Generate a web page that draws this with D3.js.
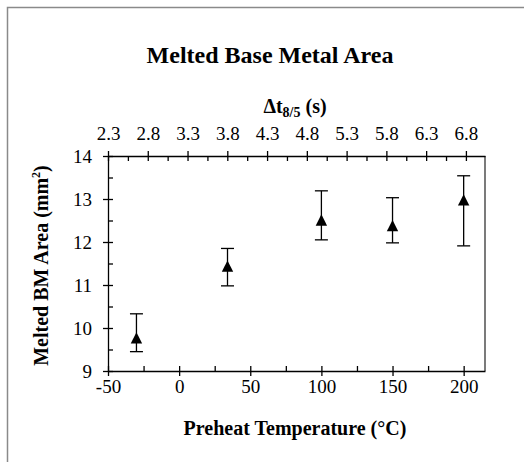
<!DOCTYPE html>
<html>
<head>
<meta charset="utf-8">
<script src="https://cdn.jsdelivr.net/npm/d3@7"></script>
<style>
  body { margin: 0; background: #fff; }
  svg text { font-family: "Liberation Serif", "Times New Roman", serif; fill: #000; }
</style>
</head>
<body>
<svg id="chart"></svg>
<script>
// preheat temperature (°C) and melted base metal area (mm²)
const temps = [-30, 34, 100, 150, 200];
const area = [9.77, 11.44, 12.51, 12.38, 12.98];
const areaHigh = [10.33, 11.85, 13.19, 13.03, 13.54];
const areaLow = [9.45, 10.98, 12.05, 11.98, 11.91];

const bottomTicks = [-50, 0, 50, 100, 150, 200];
const topTicks = [2.3, 2.8, 3.3, 3.8, 4.3, 4.8, 5.3, 5.8, 6.3, 6.8];
const yTicks = [9, 10, 11, 12, 13, 14];

var svgWidth = 524;
var svgHeight = 462;
var margin = {top: 156, right: 39, bottom: 91, left: 108};
var width = svgWidth - margin.left - margin.right;
var height = svgHeight - margin.top - margin.bottom;

var svg = d3.select("#chart")
            .attr("width", svgWidth)
            .attr("height", svgHeight);

// outer chart frame (only top/left visible in the crop)
svg.append("rect")
    .attr("x", 7.5).attr("y", 7.5)
    .attr("width", svgWidth).attr("height", svgHeight)
    .attr("fill", "none")
    .attr("stroke", "#8a8a8a")
    .attr("stroke-width", 1.5);

svg.append("text")
    .attr("x", 270).attr("y", 63)
    .attr("text-anchor", "middle")
    .attr("font-size", 24)
    .attr("font-weight", "bold")
    .text("Melted Base Metal Area");

var g = svg.append("g")
            .attr("transform", "translate(" + margin.left + "," + margin.top + ")");

var x = d3.scaleLinear().domain([-50, 215]).range([0, width]);
var xTop = d3.scaleLinear().domain([2.3, 7.04]).range([0, width]);
var y = d3.scaleLinear().domain([9, 14]).range([height, 0]);

function styleAxis(sel) {
    sel.attr("font-size", 19).attr("font-family", "Liberation Serif, serif");
    sel.selectAll("path, line").attr("stroke", "#000").attr("stroke-width", 1.3);
    sel.selectAll("text").attr("font-size", 19);
}

var plain = function(d) { return String(d); };

// right border
g.append("line")
    .attr("x1", width).attr("x2", width)
    .attr("y1", 0).attr("y2", height)
    .attr("stroke", "#222").attr("stroke-width", 1.2);

// bottom axis
g.append("g")
    .attr("transform", "translate(0," + height + ")")
    .call(d3.axisBottom(x).tickValues(bottomTicks).tickFormat(plain).tickSizeInner(5).tickSizeOuter(0).tickPadding(4))
    .call(styleAxis);
g.append("g")
    .attr("transform", "translate(0," + height + ")")
    .call(d3.axisBottom(x).tickValues(d3.range(-50, 201, 25)).tickSize(-5).tickFormat(""))
    .call(styleAxis)
    .select(".domain").remove();

// top axis
g.append("g")
    .call(d3.axisTop(xTop).tickValues(topTicks).tickFormat(d3.format(".1f")).tickSizeInner(5).tickSizeOuter(0).tickPadding(11))
    .call(styleAxis);
g.append("g")
    .call(d3.axisTop(xTop).tickValues(d3.range(0, 19).map(function(i) { return 2.3 + i * 0.25; })).tickSize(-5).tickFormat(""))
    .call(styleAxis)
    .select(".domain").remove();

// left axis
g.append("g")
    .call(d3.axisLeft(y).tickValues(yTicks).tickFormat(plain).tickSizeInner(5).tickSizeOuter(0).tickPadding(11))
    .call(styleAxis);
g.append("g")
    .call(d3.axisLeft(y).tickValues(d3.range(9, 14.01, 0.5)).tickSize(-5).tickFormat(""))
    .call(styleAxis)
    .select(".domain").remove();

// axis titles
svg.append("text")
    .attr("x", 295).attr("y", 435)
    .attr("text-anchor", "middle")
    .attr("font-size", 20)
    .attr("font-weight", "bold")
    .text("Preheat Temperature (°C)");

var topTitle = svg.append("text")
    .attr("x", 295).attr("y", 113)
    .attr("text-anchor", "middle")
    .attr("font-size", 20)
    .attr("font-weight", "bold");
topTitle.append("tspan").text("Δt");
topTitle.append("tspan").attr("font-size", 14).attr("dy", 4).text("8/5");
topTitle.append("tspan").attr("dy", -4).text(" (s)");

var yTitle = svg.append("text")
    .attr("transform", "translate(48," + (margin.top + height / 2 + 2) + ") rotate(-90)")
    .attr("text-anchor", "middle")
    .attr("font-size", 20)
    .attr("font-weight", "bold");
yTitle.append("tspan").text("Melted BM Area (mm");
yTitle.append("tspan").attr("font-size", 12).attr("dy", -8).text("2");
yTitle.append("tspan").attr("dy", 8).text(")");

var data = temps.map(function(t, i) {
    return {t: t, v: area[i], hi: areaHigh[i], lo: areaLow[i]};
});

// error bars
var eb = g.selectAll(".err").data(data).enter().append("g")
    .attr("stroke", "#000").attr("stroke-width", 1.3);
eb.append("line")
    .attr("x1", function(d) { return x(d.t); })
    .attr("x2", function(d) { return x(d.t); })
    .attr("y1", function(d) { return y(d.hi); })
    .attr("y2", function(d) { return y(d.lo); });
eb.append("line")
    .attr("x1", function(d) { return x(d.t) - 6.5; })
    .attr("x2", function(d) { return x(d.t) + 6.5; })
    .attr("y1", function(d) { return y(d.hi); })
    .attr("y2", function(d) { return y(d.hi); });
eb.append("line")
    .attr("x1", function(d) { return x(d.t) - 6.5; })
    .attr("x2", function(d) { return x(d.t) + 6.5; })
    .attr("y1", function(d) { return y(d.lo); })
    .attr("y2", function(d) { return y(d.lo); });

// triangle marker centred on its bounding box
var boxTriangle = {
    draw: function(ctx, size) {
        var s = Math.sqrt(size) / 2;
        ctx.moveTo(0, -s);
        ctx.lineTo(s, s);
        ctx.lineTo(-s, s);
        ctx.closePath();
    }
};

g.selectAll(".pt").data(data).enter().append("path")
    .attr("transform", function(d) { return "translate(" + x(d.t) + "," + y(d.v) + ")"; })
    .attr("d", d3.symbol().type(boxTriangle).size(130))
    .attr("fill", "#000");
</script>
</body>
</html>
